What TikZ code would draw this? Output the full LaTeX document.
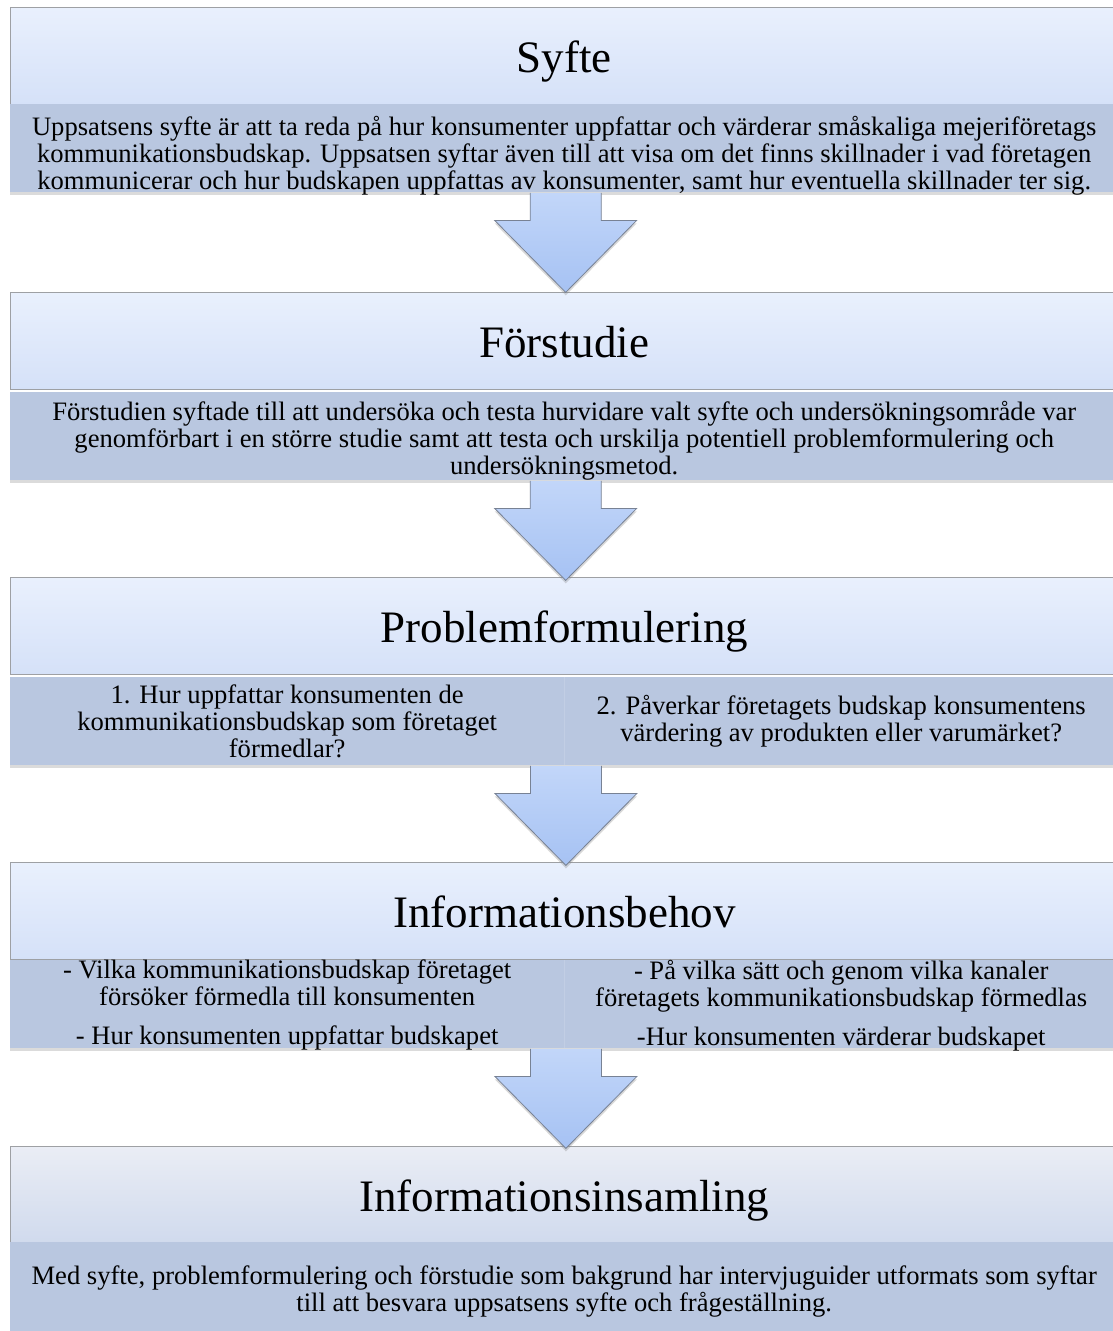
\documentclass[tikz,border=0pt]{standalone}
\usepackage{fontspec}
\setmainfont{Liberation Serif}
\usetikzlibrary{shadows,calc}

\definecolor{hdrtop}{RGB}{233,240,253}
\definecolor{hdrbot}{RGB}{213,225,248}
\definecolor{hdrtopB}{RGB}{234,237,245}
\definecolor{hdrbotB}{RGB}{208,218,237}
\definecolor{hdrline}{RGB}{158,160,164}
\definecolor{bodyfill}{RGB}{185,199,224}
\definecolor{celldiv}{RGB}{194,206,228}
\definecolor{arrtop}{RGB}{194,214,249}
\definecolor{arrbot}{RGB}{166,194,243}
\definecolor{arrline}{RGB}{120,130,148}

\tikzset{
  softshadow/.style={drop shadow={opacity=0.28, shadow xshift=0pt, shadow yshift=-2.5pt}},
  header/.style={draw=hdrline, line width=0.8pt, top color=hdrtop, bottom color=hdrbot,
    minimum width=1108pt, minimum height=97pt, anchor=north west, inner sep=0pt,
    text height=34pt, text depth=0pt,
    font=\fontsize{45}{50}\selectfont},
  headerB/.style={header, top color=hdrtopB, bottom color=hdrbotB},
  bodybox/.style={fill=bodyfill, softshadow, minimum width=1108pt, minimum height=88pt,
    anchor=north west, inner sep=0pt, align=center,
    font=\fontsize{26.6}{27}\selectfont},
  cellbox/.style={bodybox, minimum width=554pt},
  bodytext/.style={align=center, inner sep=0pt, font=\fontsize{26.6}{27}\selectfont},
  arrowfill/.style={top color=arrtop, bottom color=arrbot,
    drop shadow={opacity=0.3, shadow xshift=0pt, shadow yshift=-3pt}},
  arrowedge/.style={draw=arrline, line width=0.8pt, line join=miter},
  pics/downarrow/.style={code={
    \path[arrowfill] (-35.5,0.5) -- (35.5,0.5) -- (35.5,28) -- (71,28) -- (0,100)
      -- (-71,28) -- (-35.5,28) -- cycle;
    \path[arrowedge] (-35.5,0.5) -- (-35.5,28) -- (-71,28) -- (0,100)
      -- (71,28) -- (35.5,28) -- (35.5,0.5);
  }}
}

\begin{document}
\begin{tikzpicture}[x=1pt,y=-1pt]
\useasboundingbox[fill=white] (0,0) rectangle (1112,1331);

% Syfte
\node[header] (h1) at (10,7) {Syfte};
\node[bodybox] (b1) at (10,104) {};
\node[bodytext] (t1) at ($(b1.center)+(0,8)$) {Uppsatsens syfte är att ta reda på hur konsumenter uppfattar och värderar småskaliga mejeriföretags\\
kommunikationsbudskap. Uppsatsen syftar även till att visa om det finns skillnader i vad företagen\\
kommunicerar och hur budskapen uppfattas av konsumenter, samt hur eventuella skillnader ter sig.};

% Förstudie
\node[header] (h2) at (10,292) {Förstudie};
\node[bodybox] (b2) at (10,392) {};
\node[bodytext] (t2) at ($(b2.center)+(0,5)$) {Förstudien syftade till att undersöka och testa hurvidare valt syfte och undersökningsområde var\\
genomförbart i en större studie samt att testa och urskilja potentiell problemformulering och\\
undersökningsmetod.};

% Problemformulering
\node[header] (h3) at (10,577) {Problemformulering};
\node[cellbox] (b3l) at (10,677) {1. Hur uppfattar konsumenten de\\
kommunikationsbudskap som företaget\\
förmedlar?};
\node[cellbox] (b3r) at (564,677) {2. Påverkar företagets budskap konsumentens\\
värdering av produkten eller varumärket?};
\draw[celldiv, line width=1pt] (b3r.north west) -- (b3r.south west);

% Informationsbehov
\node[header] (h4) at (10,862) {Informationsbehov};
\node[cellbox] (b4l) at (10,960) {};
\node[bodytext] (t4l) at ($(b4l.center)+(0,1)$) {- Vilka kommunikationsbudskap företaget\\
försöker förmedla till konsumenten\\[12pt]
- Hur konsumenten uppfattar budskapet};
\node[cellbox] (b4r) at (564,960) {};
\node[bodytext] (t4r) at ($(b4r.center)+(0,1)$) {- På vilka sätt och genom vilka kanaler\\
företagets kommunikationsbudskap förmedlas\\[12pt]
-Hur konsumenten värderar budskapet};
\draw[celldiv, line width=1pt] (b4r.north west) -- (b4r.south west);

% Informationsinsamling
\node[headerB] (h5) at (10,1146) {Informationsinsamling};
\node[bodybox, minimum height=92pt] (b5) at (10,1242) {};
\node[bodytext] (t5) at ($(b5.north)+(0,46+3)$) {Med syfte, problemformulering och förstudie som bakgrund har intervjuguider utformats som syftar\\
till att besvara uppsatsens syfte och frågeställning.};

% Arrows between the stages
\pic at ($(b1.south)+(1.5,0)$) {downarrow};
\pic at ($(b2.south)+(1.5,0)$) {downarrow};
\pic at ($(b3l.south east)+(1.5,0)$) {downarrow};
\pic at ($(b4l.south east)+(1.5,0)$) {downarrow};
\end{tikzpicture}
\end{document}
